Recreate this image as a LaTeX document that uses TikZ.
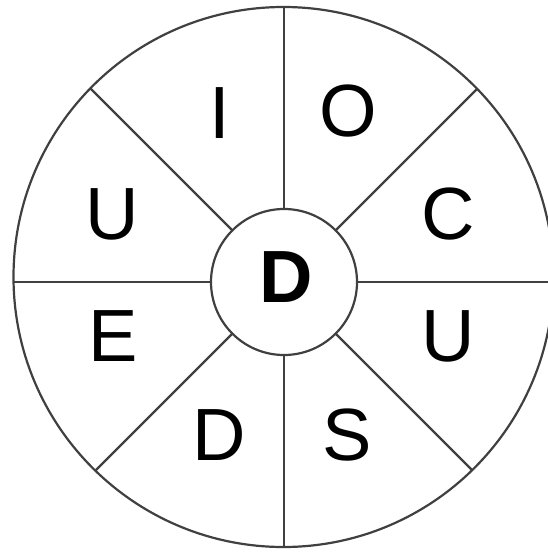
\documentclass[tikz,border=0pt]{standalone}
\usepackage{fontspec}
\setmainfont{Liberation Sans}
\usetikzlibrary{calc}
\begin{document}
\begin{tikzpicture}[x=1pt,y=-1pt,
  ring/.style={draw=black!75,line width=2.2pt},
  spoke/.style={draw=black!75,line width=2.2pt},
  letter/.style={inner sep=0pt,font=\fontsize{74}{80}\selectfont},
  hub/.style={circle,draw=black!75,line width=2.2pt,minimum size=146pt,inner sep=0pt,fill=white}]
\useasboundingbox (0,0) rectangle (547,554);
\coordinate (c) at (283.5,277);
\coordinate (h) at (284,282);
\begin{scope}
  \clip (c) circle[radius=270pt];
  \foreach \a in {0,45,...,315}{
    \draw[spoke] (h) -- ++(\a:300pt);
  }
\end{scope}
\draw[ring] (c) circle[radius=270pt];
\node[hub] (hubnode) at (h) {};
\node[letter,font=\fontsize{74}{80}\selectfont\bfseries] (dc) at (286,277) {D};
\node[letter] (l1) at (220,113) {I};
\node[letter] (l2) at (348,111) {O};
\node[letter] (l3) at (448,214) {C};
\node[letter] (l4) at (448,336) {U};
\node[letter] (l5) at (347,435) {S};
\node[letter] (l6) at (219,435) {D};
\node[letter] (l7) at (113,336) {E};
\node[letter] (l8) at (112,214) {U};
\end{tikzpicture}
\end{document}
